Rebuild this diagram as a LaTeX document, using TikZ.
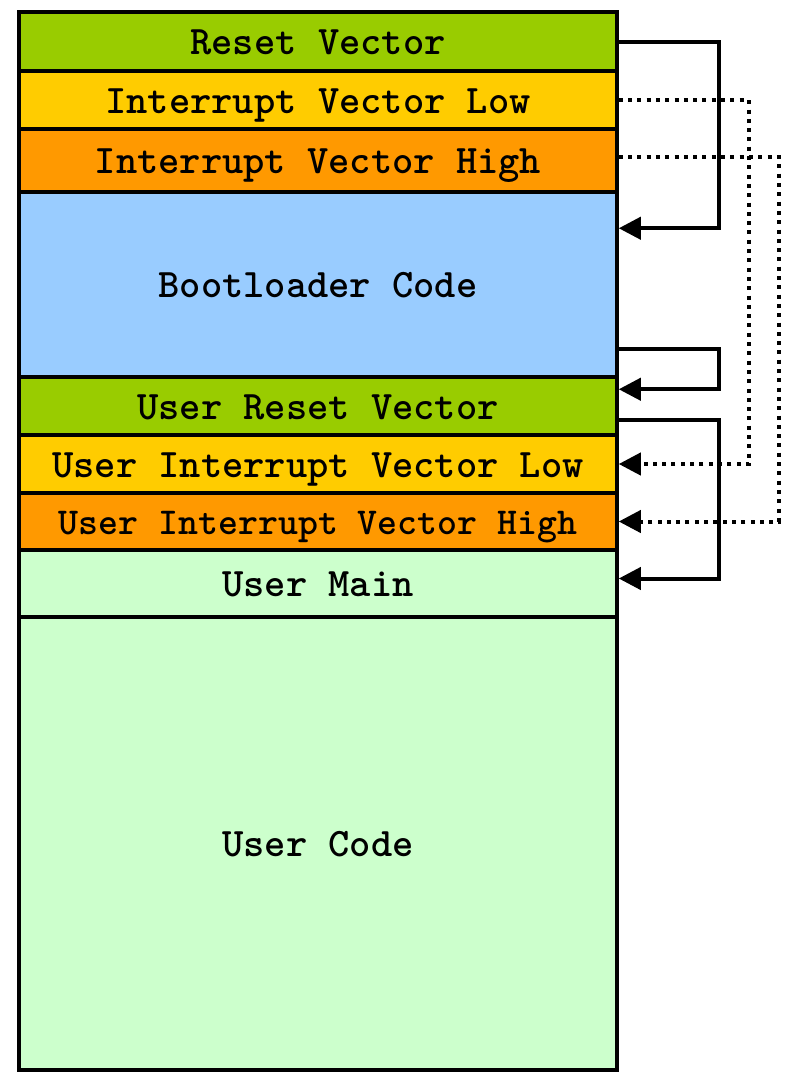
\documentclass[tikz,border=0pt]{standalone}
\usepackage{fontspec}
\usetikzlibrary{arrows.meta,calc}
\definecolor{cgreen}{HTML}{99CC00}
\definecolor{cyellow}{HTML}{FFCC00}
\definecolor{corange}{HTML}{FF9900}
\definecolor{cblue}{HTML}{99CCFF}
\definecolor{clight}{HTML}{CCFFCC}
\begin{document}
\begin{tikzpicture}[x=1pt,y=-1pt,
  mem/.style={draw=black,line width=3.5pt,minimum width=598pt,inner sep=0pt,
    text height=26pt,text depth=0pt,
    font=\ttfamily\bfseries\fontsize{40.5}{44}\selectfont},
  link/.style={line width=4pt,-{Triangle[length=22pt,width=22pt]}},
  dlink/.style={line width=4pt,dash pattern=on 4pt off 5.3pt,-{Triangle[length=22pt,width=22pt]}}]
\useasboundingbox (0,0) rectangle (789,1074);
\node[mem,fill=clight,minimum height=453pt] (uc) at (318,843.5) {User Code};
\node[mem,fill=clight,minimum height=67pt] (um) at (318,583.5) {User Main};
\node[mem,fill=corange,minimum height=57pt,font=\ttfamily\bfseries\fontsize{38}{42}\selectfont] (uivh) at (318,521.5) {User Interrupt Vector High};
\node[mem,fill=cyellow,minimum height=58pt] (uivl) at (318,464) {User Interrupt Vector Low};
\node[mem,fill=cgreen,minimum height=58pt] (urv) at (318,406) {User Reset Vector};
\node[mem,fill=cblue,minimum height=185pt] (boot) at (318,284.5) {Bootloader Code};
\node[mem,fill=corange,minimum height=63pt] (ivh) at (318,160.5) {Interrupt Vector High};
\node[mem,fill=cyellow,minimum height=58pt] (ivl) at (318,100) {Interrupt Vector Low};
\node[mem,fill=cgreen,minimum height=59pt] (rv) at (318,41.5) {Reset Vector};
\coordinate (t1) at ($(boot.north east)+(0,38)$);
\coordinate (s4) at ($(boot.south east)+(0,-30)$);
\coordinate (t4) at ($(urv.north east)+(0,14)$);
\coordinate (s5) at ($(urv.east)+(0,14)$);
\coordinate (t5) at ($(um.east)+(0,-5)$);
\coordinate (s3) at ($(ivh.east)+(0,-3.5)$);
\draw[dlink] (ivl.east) -- ++(130,0) |- (uivl.east);
\draw[dlink] (s3) -- ++(160,0) |- (uivh.east);
\draw[link] (rv.east) -- ++(100,0) |- (t1);
\draw[link] (s4) -- ++(100,0) |- (t4);
\draw[link] (s5) -- ++(100,0) |- (t5);
\end{tikzpicture}
\end{document}
